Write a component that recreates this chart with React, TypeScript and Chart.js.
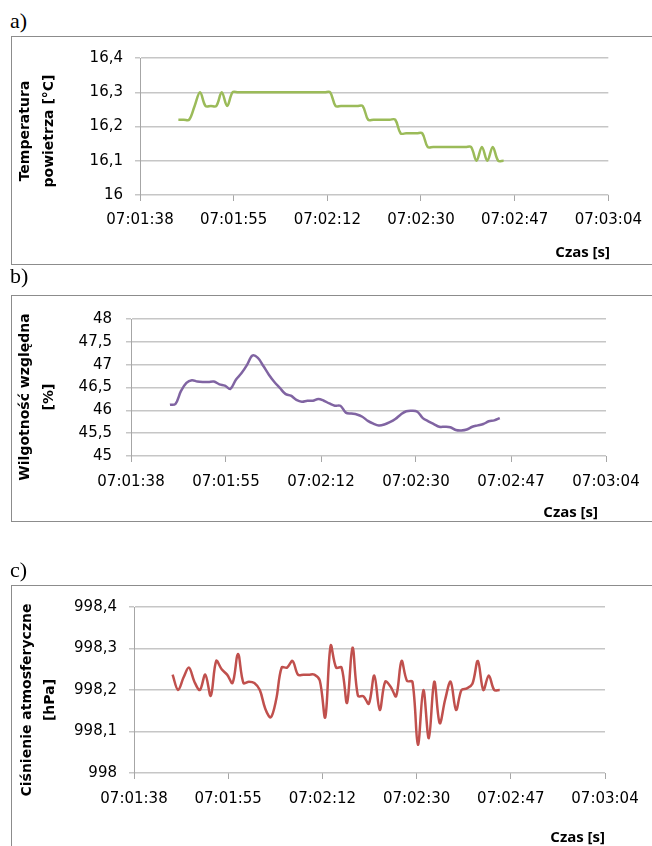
import React, { useEffect, useRef } from 'react';
import { Chart, registerables } from 'chart.js';

Chart.register(...registerables);
Chart.defaults.font.family = '"DejaVu Sans", sans-serif';

// ---------------- DATA ----------------
const sampleTimes = [
  '07:01:45', '07:01:46', '07:01:47', '07:01:48', '07:01:49', '07:01:50', '07:01:51', '07:01:52',
  '07:01:53', '07:01:54', '07:01:55', '07:01:56', '07:01:57', '07:01:58', '07:01:59', '07:02:00',
  '07:02:01', '07:02:02', '07:02:03', '07:02:04', '07:02:05', '07:02:06', '07:02:07', '07:02:08',
  '07:02:09', '07:02:10', '07:02:11', '07:02:12', '07:02:13', '07:02:14', '07:02:15', '07:02:16',
  '07:02:17', '07:02:18', '07:02:19', '07:02:20', '07:02:21', '07:02:22', '07:02:23', '07:02:24',
  '07:02:25', '07:02:26', '07:02:27', '07:02:28', '07:02:29', '07:02:30', '07:02:31', '07:02:32',
  '07:02:33', '07:02:34', '07:02:35', '07:02:36', '07:02:37', '07:02:38', '07:02:39', '07:02:40',
  '07:02:41', '07:02:42', '07:02:43', '07:02:44', '07:02:45',
];

const temperature = [
  16.22, 16.22, 16.22, 16.26, 16.30, 16.26, 16.26, 16.26, 16.30, 16.26, 16.30,
  16.30, 16.30, 16.30, 16.30, 16.30, 16.30, 16.30, 16.30, 16.30, 16.30, 16.30, 16.30, 16.30, 16.30,
  16.30, 16.30, 16.30, 16.30,
  16.26, 16.26, 16.26, 16.26, 16.26, 16.26,
  16.22, 16.22, 16.22, 16.22, 16.22, 16.22,
  16.18, 16.18, 16.18, 16.18, 16.18,
  16.14, 16.14, 16.14, 16.14, 16.14, 16.14, 16.14, 16.14, 16.14,
  16.10, 16.14, 16.10, 16.14, 16.10, 16.10,
];

const humidity = [
  46.12, 46.14, 46.42, 46.60, 46.66, 46.63, 46.62, 46.62, 46.63, 46.57, 46.54, 46.47,
  46.67, 46.81, 46.99, 47.20, 47.15, 46.97, 46.78, 46.62, 46.49, 46.36, 46.32, 46.23,
  46.19, 46.21, 46.21, 46.25, 46.21, 46.15, 46.10, 46.10, 45.95, 45.93, 45.91, 45.86,
  45.77, 45.71, 45.67, 45.69, 45.74, 45.81, 45.91, 45.98, 45.99, 45.97, 45.83, 45.76,
  45.70, 45.64, 45.64, 45.63, 45.57, 45.56, 45.58, 45.64, 45.67, 45.70, 45.76, 45.78, 45.83,
];

const pressure = [
  998.237, 998.200, 998.230, 998.254, 998.220, 998.200, 998.237, 998.186, 998.270, 998.250,
  998.237, 998.217, 998.287, 998.217, 998.220, 998.217, 998.200, 998.155, 998.134, 998.177,
  998.254, 998.254, 998.270, 998.237, 998.237, 998.237, 998.237, 998.223, 998.134, 998.307,
  998.254, 998.254, 998.169, 998.302, 998.186, 998.185, 998.167, 998.235, 998.152, 998.220,
  998.208, 998.185, 998.270, 998.222, 998.220, 998.068, 998.200, 998.084, 998.220, 998.120,
  998.177, 998.220, 998.152, 998.200, 998.204, 998.215, 998.270, 998.200, 998.235, 998.200,
  998.200,
];

const timeTickLabels = ['07:01:38', '07:01:55', '07:02:12', '07:02:30', '07:02:47', '07:03:04'];
const tempTickLabels = ['16', '16,1', '16,2', '16,3', '16,4'];
const humTickLabels = ['45', '45,5', '46', '46,5', '47', '47,5', '48'];
const presTickLabels = ['998', '998,1', '998,2', '998,3', '998,4'];

// Time axis: 07:01:37.92 .. 07:03:04.32, major unit 17.28 s
const AXIS_MIN_S = 7 * 3600 + 60 + 37.92;
const AXIS_STEP_S = 17.28;
const AXIS_STEPS = 5;

const toSeconds = (s: string) => {
  const [h, m, sec] = s.split(':').map(Number);
  return h * 3600 + m * 60 + sec;
};

const CANVAS_W = 640;

type Geo = {
  height: number;
  left: number;
  right: number;
  top: number;
  bottom: number;
  yPad: number;
  xPad: number;
  yTitleX: number[];
  yTitleCenter: number;
  xTitleRight: number;
  xTitleY: number;
};

type PanelProps = {
  values: number[];
  color: string;
  yMin: number;
  yMax: number;
  yStep: number;
  yLabels: string[];
  yTitle: string[];
  geo: Geo;
};

function makeTitlePlugin(yTitle: string[], geo: Geo) {
  return {
    id: 'axisTitlesCustom',
    afterDraw(chart: any) {
      const ctx = chart.ctx as CanvasRenderingContext2D;
      ctx.save();
      ctx.fillStyle = '#000';
      ctx.font = 'bold 14px "DejaVu Sans", sans-serif';
      ctx.textAlign = 'center';
      ctx.textBaseline = 'middle';
      yTitle.forEach((line, i) => {
        ctx.save();
        ctx.translate(geo.yTitleX[i], geo.yTitleCenter);
        ctx.rotate(-Math.PI / 2);
        ctx.fillText(line, 0, 0);
        ctx.restore();
      });
      ctx.font = 'bold 15px "Open Sans", "DejaVu Sans", sans-serif';
      ctx.textAlign = 'right';
      ctx.fillText('Czas [s]', geo.xTitleRight, geo.xTitleY);
      ctx.restore();
    },
  };
}

function Panel({ values, color, yMin, yMax, yStep, yLabels, yTitle, geo }: PanelProps) {
  const ref = useRef<HTMLCanvasElement | null>(null);

  useEffect(() => {
    if (!ref.current) return;
    const data = sampleTimes.map((t, i) => ({ x: toSeconds(t), y: values[i] }));
    const chart = new Chart(ref.current, {
      type: 'line',
      data: {
        datasets: [
          {
            data,
            borderColor: color,
            borderWidth: 2.5,
            pointRadius: 0,
            tension: 0.35,
            fill: false,
          },
        ],
      },
      options: {
        animation: false,
        responsive: false,
        maintainAspectRatio: false,
        events: [],
        layout: {
          padding: { left: 0, top: geo.top, right: CANVAS_W - geo.right, bottom: 0 },
        },
        plugins: {
          legend: { display: false },
          tooltip: { enabled: false },
        },
        scales: {
          x: {
            type: 'linear',
            min: AXIS_MIN_S,
            max: AXIS_MIN_S + AXIS_STEPS * AXIS_STEP_S,
            ticks: {
              stepSize: AXIS_STEP_S,
              autoSkip: false,
              maxRotation: 0,
              minRotation: 0,
              padding: geo.xPad,
              color: '#000',
              font: { size: 15 },
              callback: (_v: any, i: number) => timeTickLabels[i] ?? '',
            },
            grid: {
              drawOnChartArea: false,
              drawTicks: true,
              tickLength: 6,
              color: '#a6a6a6',
              lineWidth: 1,
            },
            border: { display: false },
            afterFit: (s: any) => {
              s.height = geo.height - geo.bottom;
            },
          },
          y: {
            type: 'linear',
            min: yMin,
            max: yMax,
            ticks: {
              stepSize: yStep,
              padding: geo.yPad,
              color: '#000',
              font: { size: 15 },
              callback: (_v: any, i: number) => yLabels[i] ?? '',
            },
            grid: {
              color: '#c6c6c6',
              lineWidth: 1.5,
              tickLength: 5,
              drawTicks: true,
            },
            border: { display: true, color: '#a6a6a6', width: 1 },
            afterFit: (s: any) => {
              s.width = geo.left;
            },
          },
        },
      },
      plugins: [makeTitlePlugin(yTitle, geo)],
    } as any);
    return () => chart.destroy();
  }, []);

  return (
    <canvas
      ref={ref}
      width={CANVAS_W}
      height={geo.height}
      style={{ display: 'block', width: CANVAS_W, height: geo.height }}
    />
  );
}

const labelStyle: React.CSSProperties = {
  position: 'absolute',
  left: 10,
  fontFamily: '"Liberation Serif", "Times New Roman", serif',
  fontSize: 22,
  lineHeight: '22px',
  color: '#000',
};

const boxStyle = (top: number, height: number): React.CSSProperties => ({
  position: 'absolute',
  left: 11,
  top,
  width: 680,
  height,
  border: '1px solid #8c8c8c',
  boxSizing: 'border-box',
  background: '#fff',
});

export default function App() {
  const geoA: Geo = {
    height: 227, left: 128, right: 598, top: 16, bottom: 158, yPad: 12, xPad: 10,
    yTitleX: [13.5, 37.5], yTitleCenter: 94, xTitleRight: 598, xTitleY: 215.5,
  };
  const geoB: Geo = {
    height: 225, left: 119, right: 594, top: 16, bottom: 160, yPad: 14, xPad: 11,
    yTitleX: [13.5, 37], yTitleCenter: 101, xTitleRight: 586, xTitleY: 216.3,
  };
  const geoC: Geo = {
    height: 260, left: 122, right: 593, top: 15, bottom: 187, yPad: 12, xPad: 11.5,
    yTitleX: [15, 38], yTitleCenter: 114, xTitleRight: 593, xTitleY: 251.5,
  };

  return (
    <div
      style={{
        position: 'absolute',
        left: 0,
        top: 0,
        width: 652,
        height: 846,
        overflow: 'hidden',
        background: '#fff',
      }}
    >
      <div style={{ ...labelStyle, top: 10 }}>a)</div>
      <div style={boxStyle(36, 229)}>
        <Panel
          values={temperature}
          color="#9bbb59"
          yMin={16}
          yMax={16.4}
          yStep={0.1}
          yLabels={tempTickLabels}
          yTitle={['Temperatura', 'powietrza [°C]']}
          geo={geoA}
        />
      </div>

      <div style={{ ...labelStyle, top: 265 }}>b)</div>
      <div style={boxStyle(295, 227)}>
        <Panel
          values={humidity}
          color="#8064a2"
          yMin={45}
          yMax={48}
          yStep={0.5}
          yLabels={humTickLabels}
          yTitle={['Wilgotność względna', '[%]']}
          geo={geoB}
        />
      </div>

      <div style={{ ...labelStyle, top: 559 }}>c)</div>
      <div style={boxStyle(585, 300)}>
        <Panel
          values={pressure}
          color="#c0504d"
          yMin={998}
          yMax={998.4}
          yStep={0.1}
          yLabels={presTickLabels}
          yTitle={['Ciśnienie atmosferyczne', '[hPa]']}
          geo={geoC}
        />
      </div>
    </div>
  );
}
